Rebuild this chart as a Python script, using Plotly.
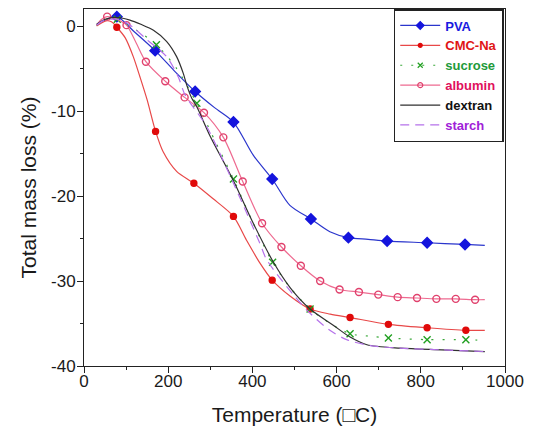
import plotly.graph_objects as go

# ---------------- data ----------------
pva_T = [30, 50, 78, 120, 169, 215, 264, 310, 355, 402, 447, 489, 539, 584, 628, 675, 720, 815, 905, 952]
pva_loss = [0.1, 0.7, 1.1, -0.7, -2.9, -5.3, -7.7, -9.6, -11.3, -15.2, -18.0, -21.1, -22.7, -24.2, -24.9, -25.1, -25.3, -25.5, -25.7, -25.8]
pva_mark_T = [78, 169, 264, 355, 447, 539, 628, 720, 815, 905]
pva_mark_loss = [1.1, -2.9, -7.7, -11.3, -18.0, -22.7, -24.9, -25.3, -25.5, -25.7]

cmc_T = [30, 52, 65, 78, 98, 117, 133, 150, 170, 188, 220, 261, 306, 355, 386, 418, 447, 490, 537, 585, 632, 723, 815, 907, 952]
cmc_loss = [0.0, 0.6, 0.5, -0.15, -1.4, -3.6, -6.0, -8.7, -12.4, -14.8, -17.1, -18.5, -20.3, -22.4, -25.2, -27.9, -29.9, -31.8, -33.3, -33.9, -34.3, -35.1, -35.5, -35.8, -35.8]
cmc_mark_T = [78, 170, 261, 355, 447, 537, 632, 723, 815, 907]
cmc_mark_loss = [-0.15, -12.4, -18.5, -22.4, -29.9, -33.3, -34.3, -35.1, -35.5, -35.8]

suc_T = [30, 55, 79, 125, 172, 220, 268, 310, 355, 400, 448, 490, 537, 585, 632, 680, 723, 815, 907, 952]
suc_loss = [0.1, 0.8, 0.8, -0.5, -2.2, -5.0, -9.1, -13.4, -18.0, -23.0, -27.8, -30.8, -33.3, -35.0, -36.2, -36.5, -36.7, -36.9, -36.9, -37.0]
suc_mark_T = [79, 172, 268, 355, 448, 537, 632, 723, 815, 907]
suc_mark_loss = [0.8, -2.2, -9.1, -18.0, -27.8, -33.3, -36.2, -36.7, -36.9, -36.9]

alb_T = [30, 42, 55, 78, 101, 124, 147, 193, 239, 285, 331, 377, 423, 469, 515, 561, 607, 653, 699, 745, 791, 837, 883, 929, 952]
alb_loss = [0.1, 0.8, 1.1, 0.8, 0.1, -2.0, -4.2, -6.5, -8.4, -10.2, -13.1, -18.3, -23.2, -26.0, -28.2, -30.0, -31.0, -31.3, -31.6, -31.9, -32.0, -32.1, -32.1, -32.2, -32.2]
alb_mark_T = [55, 101, 147, 193, 239, 285, 331, 377, 423, 469, 515, 561, 607, 653, 699, 745, 791, 837, 883, 929]
alb_mark_loss = [1.1, 0.1, -4.2, -6.5, -8.4, -10.2, -13.1, -18.3, -23.2, -26.0, -28.2, -30.0, -31.0, -31.3, -31.6, -31.9, -32.0, -32.1, -32.1, -32.2]

dex_T = [30, 50, 80, 109, 135, 165, 196, 220, 236, 245, 256, 268, 300, 355, 400, 450, 490, 537, 592, 632, 672, 751, 850, 952]
dex_loss = [0.2, 0.8, 1.0, 0.7, 0.2, -0.5, -1.8, -3.6, -5.6, -7.1, -8.5, -9.5, -13.0, -18.2, -23.0, -27.8, -30.8, -33.3, -35.2, -36.6, -37.5, -37.9, -38.1, -38.3]

sta_T = [30, 45, 65, 90, 120, 149, 196, 224, 240, 291, 355, 418, 434, 497, 537, 584, 624, 680, 750, 850, 952]
sta_loss = [0.1, 0.6, 0.8, 0.7, -0.3, -1.6, -3.6, -6.0, -8.1, -11.8, -18.5, -25.6, -27.5, -31.6, -33.8, -35.8, -36.9, -37.6, -37.9, -38.1, -38.3]

x_ticks = [0, 200, 400, 600, 800, 1000]
y_ticks = [-40, -30, -20, -10, 0]

# ---------------- styles ----------------
series = [
    dict(name="PVA", T=pva_T, L=pva_loss, mT=pva_mark_T, mL=pva_mark_loss,
         line="#2a35cc", mcol="#1414dd", text="#1a1ae0", dash="solid", sym="diamond", ms=8),
    dict(name="CMC-Na", T=cmc_T, L=cmc_loss, mT=cmc_mark_T, mL=cmc_mark_loss,
         line="#e84848", mcol="#e00a0a", text="#e01515", dash="solid", sym="circle", ms=6),
    dict(name="sucrose", T=suc_T, L=suc_loss, mT=suc_mark_T, mL=suc_mark_loss,
         line="#3aa83a", mcol="#22a022", text="#1e9a3a", dash="2px,9px", sym="x-thin-open", ms=7),
    dict(name="albumin", T=alb_T, L=alb_loss, mT=alb_mark_T, mL=alb_mark_loss,
         line="#ee6a90", mcol="#e0406c", text="#e0105c", dash="solid", sym="circle-open", ms=7),
    dict(name="dextran", T=dex_T, L=dex_loss, mT=None, mL=None,
         line="#303030", mcol="#303030", text="#111111", dash="solid", sym=None, ms=0),
    dict(name="starch", T=sta_T, L=sta_loss, mT=None, mL=None,
         line="#b572ea", mcol="#b572ea", text="#a020d8", dash="9px,6px", sym=None, ms=0),
]

fig = go.Figure()
for s in series:
    fig.add_trace(go.Scatter(
        x=s["T"], y=s["L"], mode="lines",
        line=dict(color=s["line"], width=1.2, dash=s["dash"], shape="spline", smoothing=0.8),
        showlegend=False, hoverinfo="skip"))
    if s["mT"] is not None:
        fig.add_trace(go.Scatter(
            x=s["mT"], y=s["mL"], mode="markers",
            marker=dict(symbol=s["sym"], size=s["ms"], color=s["mcol"],
                        line=dict(color=s["mcol"], width=1.4)),
            showlegend=False))

# legend entries
for s in series:
    mode = "lines+markers" if s["sym"] else "lines"
    fig.add_trace(go.Scatter(
        x=[None], y=[None], mode=mode,
        name="<b><span style='color:%s'>%s</span></b>" % (s["text"], s["name"]),
        line=dict(color=s["line"], width=1.2, dash=s["dash"]),
        marker=dict(symbol=s["sym"] or "circle", size=max(s["ms"] - 2, 1), color=s["mcol"],
                    line=dict(color=s["mcol"], width=1.2)),
        showlegend=True))

# The page adds an 8px body margin, so the figure is sized to fit inside it.
font_family = "Liberation Sans, Arial, sans-serif"
fig.update_layout(
    width=526, height=421,
    margin=dict(l=76, r=29, t=1, b=63),
    paper_bgcolor="white", plot_bgcolor="white",
    font=dict(family=font_family, color="#1a1a1a", size=17),
    showlegend=True,
    legend=dict(x=0.997, y=1, xanchor="right", yanchor="top",
                bordercolor="#222", borderwidth=1.5, bgcolor="white",
                font=dict(family=font_family, size=13),
                tracegroupgap=0, itemwidth=40),
    xaxis=dict(range=[0, 1000], tickvals=x_ticks, ticktext=[str(v) for v in x_ticks],
               automargin=False,
               showgrid=False, zeroline=False, showline=True, linecolor="#222",
               linewidth=1, mirror=True, ticks="outside", ticklen=6, tickcolor="#222",
               minor=dict(dtick=100, ticks="outside", ticklen=3, tickcolor="#222", showgrid=False),
               tickfont=dict(size=17), ticklabelstandoff=-6,
               title=dict(text="Temperature (□C)", font=dict(size=21), standoff=16)),
    yaxis=dict(range=[-40, 2], tickvals=y_ticks, ticktext=[str(v) for v in y_ticks],
               automargin=False,
               showgrid=False, zeroline=False, showline=True, linecolor="#222",
               linewidth=1, mirror=True, ticks="outside", ticklen=6, tickcolor="#222",
               minor=dict(tick0=0, dtick=5, ticks="outside", ticklen=3, tickcolor="#222", showgrid=False),
               tickfont=dict(size=17), ticklabelstandoff=-2,
               title=dict(text="Total mass loss (%)", font=dict(size=21), standoff=8)),
)

fig.write_html("out.html")
